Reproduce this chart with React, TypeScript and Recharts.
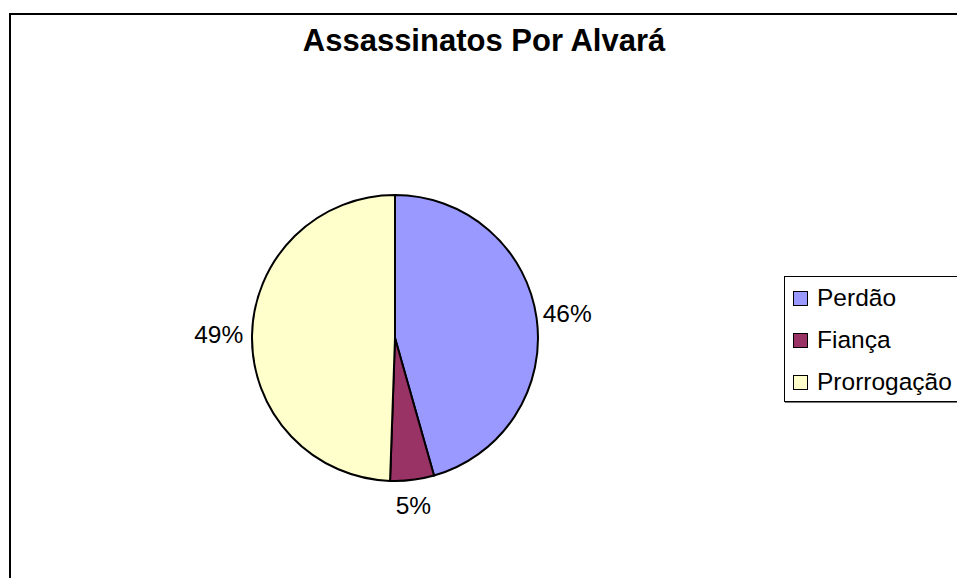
import { PieChart, Pie, Cell, Legend } from 'recharts'

// ─── Data ─────────
const CATEGORIES = ['Perdão', 'Fiança', 'Prorrogação']
const VALUES = [45.6, 4.95, 49.45]
const COLORS = ['#9999FF', '#993366', '#FFFFCC']
const TITLE = 'Assassinatos Por Alvará'

const data = CATEGORIES.map((name, i) => ({ name, value: VALUES[i] }))

const FONT = '"Liberation Sans", Arial, sans-serif'
const RADIAN = Math.PI / 180
const LABEL_SIZE = 24.5

// ─── Outside percent label (box edge sits a fixed gap off the rim) ─────────
function renderLabel(props: any) {
  const { cx, cy, midAngle, outerRadius, percent } = props
  const text = `${Math.round(percent * 100)}%`
  const w = text.length * 0.6 * LABEL_SIZE
  const h = 30
  const c = Math.cos(-midAngle * RADIAN)
  const s = Math.sin(-midAngle * RADIAN)
  const d = outerRadius + 9 + Math.abs(c) * (w / 2) + Math.abs(s) * (h / 2)
  return (
    <text
      x={cx + d * c - 2}
      y={cy + d * s}
      textAnchor="middle"
      dominantBaseline="central"
      fill="#000"
      fontSize={LABEL_SIZE}
      fontFamily={FONT}
    >
      {text}
    </text>
  )
}

function renderLegend() {
  return (
    <div
      style={{
        width: 190,
        height: 126,
        border: '1px solid #000',
        boxShadow: '1px 1px 0 #777',
        background: '#fff',
        fontFamily: FONT,
        fontSize: LABEL_SIZE,
        color: '#000',
        boxSizing: 'border-box',
        paddingTop: 0,
      }}
    >
      {CATEGORIES.map((name, i) => (
        <div key={name} style={{ display: 'flex', alignItems: 'center', height: 42 }}>
          <span
            style={{
              display: 'inline-block',
              width: 13,
              height: 13,
              marginLeft: 8,
              marginRight: 9,
              border: '1px solid #000',
              background: COLORS[i],
            }}
          />
          <span style={{ lineHeight: 1 }}>{name}</span>
        </div>
      ))}
    </div>
  )
}

export default function App() {
  return (
    <div
      style={{
        position: 'absolute',
        left: 0,
        top: 0,
        width: 957,
        height: 578,
        overflow: 'hidden',
        background: '#fff',
        fontFamily: FONT,
      }}
    >
      <div
        style={{
          position: 'absolute',
          left: 9,
          top: 13,
          width: 970,
          height: 590,
          border: '2px solid #000',
        }}
      />
      <div
        style={{
          position: 'absolute',
          left: 0,
          top: 21,
          width: 968,
          textAlign: 'center',
          fontWeight: 'bold',
          fontSize: 31,
          lineHeight: '40px',
          color: '#000',
        }}
      >
        {TITLE}
      </div>
      <div style={{ position: 'absolute', left: 0, top: 0 }}>
        <PieChart width={957} height={578} margin={{ top: 0, right: 0, bottom: 0, left: 0 }}>
          <Pie
            data={data}
            dataKey="value"
            nameKey="name"
            cx={395}
            cy={338}
            outerRadius={143}
            startAngle={90}
            endAngle={-270}
            stroke="#000"
            strokeWidth={2}
            label={renderLabel}
            labelLine={false}
            isAnimationActive={false}
          >
            {data.map((entry, i) => (
              <Cell key={entry.name} fill={COLORS[i]} />
            ))}
          </Pie>
          <Legend
            content={renderLegend}
            wrapperStyle={{ position: 'absolute', left: 784, top: 276, width: 'auto' }}
          />
        </PieChart>
      </div>
    </div>
  )
}
